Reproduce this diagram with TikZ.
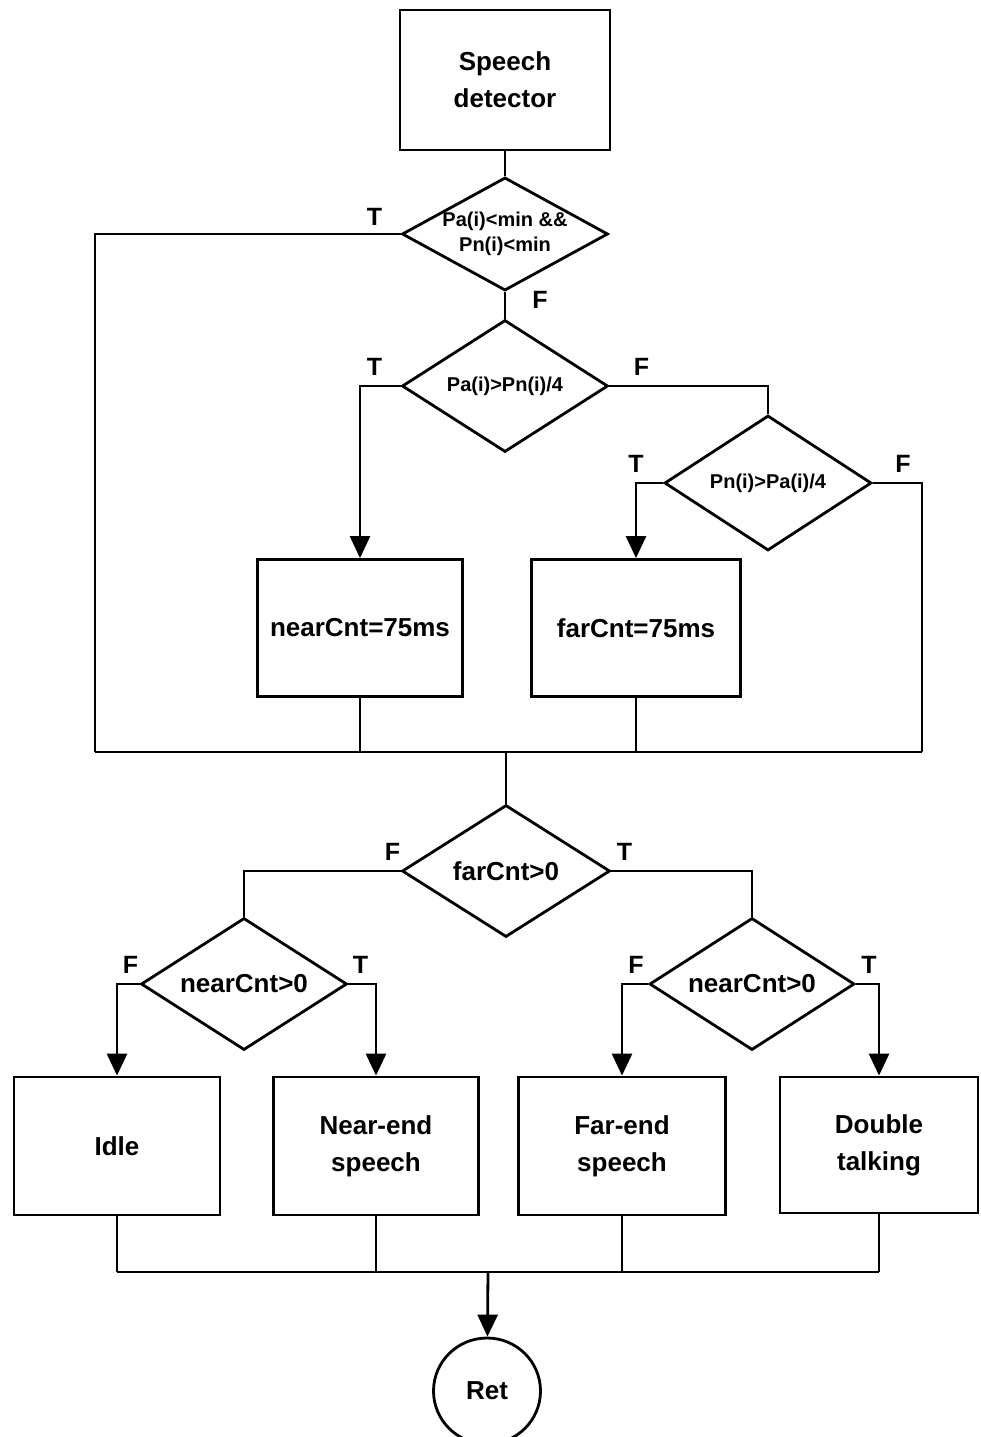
\documentclass[tikz,border=0pt]{standalone}
\usepackage{fontspec}
\setmainfont{Liberation Sans}
\usetikzlibrary{calc,shapes.geometric,arrows.meta}
\tikzset{x=1pt, y=-1pt,
    proc/.style={draw, rectangle, align=center, font=\fontsize{26}{37}\selectfont\bfseries,
           inner sep=0pt},
    test/.style={draw, diamond, aspect=1.8, inner sep=0pt, align=center,
           font=\fontsize{20}{25}\selectfont\bfseries},
    bigtest/.style={test, font=\fontsize{26}{28}\selectfont\bfseries},
    flag/.style={font=\fontsize{25}{25}\selectfont\bfseries, inner sep=0pt},
    stop/.style={draw, ellipse, inner sep=0pt, font=\fontsize{26}{28}\selectfont\bfseries},
    >={Triangle[width=20pt,length=22pt]}
    }
\begin{document}
\begin{tikzpicture}[line width=2.8pt]
\useasboundingbox (0,0) rectangle (980,1437);
% upper part
\node[proc, minimum width=210, minimum height=140] (detector) at (505,80) {Speech\\detector};
\node[test, minimum width=206, minimum height=112] (low) at (505,234) {Pa(i)<min \&\&\\Pn(i)<min};
\node[test, minimum width=206, minimum height=132] (near) at (505,386) {Pa(i)>Pn(i)/4};
\node[test, minimum width=207, minimum height=135] (far) at (768,483) {Pn(i)>Pa(i)/4};
\node[proc, minimum width=205, minimum height=137] (nearset) at (360,628) {nearCnt=75ms};
\node[proc, minimum width=209, minimum height=137] (farset) at (636,628) {farCnt=75ms};
\coordinate (loopL) at (95,752);
\coordinate (loopR) at (922,752);
\coordinate (join) at (506,752);
% lower part
\node[bigtest, minimum width=208, minimum height=132] (farchk) at (506,871) {farCnt>0};
\node[bigtest, minimum width=206, minimum height=132] (nearA) at (244,984) {nearCnt>0};
\node[bigtest, minimum width=205, minimum height=132] (nearB) at (752,984) {nearCnt>0};
\node[proc, minimum width=206, minimum height=138] (idle) at (117,1146) {Idle};
\node[proc, minimum width=205, minimum height=138] (nearend) at (376,1146) {Near-end\\speech};
\node[proc, minimum width=207, minimum height=138] (farend) at (622,1146) {Far-end\\speech};
\node[proc, minimum width=198, minimum height=136] (double) at (879,1145) {Double\\talking};
\coordinate (merge) at (488,1272);
\node[stop, minimum width=107, minimum height=106] (ret) at (487,1391) {Ret};
% branch labels
\node[flag] at ([shift={(-26,-17)}]low.west) {T};
\node[flag] at ([shift={(35,8)}]low.south) {F};
\node[flag] at ([shift={(-26,-19)}]near.west) {T};
\node[flag] at ([shift={(32,-19)}]near.east) {F};
\node[flag] at ([shift={(-27,-19)}]far.west) {T};
\node[flag] at ([shift={(30,-19)}]far.east) {F};
\node[flag] at ([shift={(-8,-19)}]farchk.west) {F};
\node[flag] at ([shift={(13,-19)}]farchk.east) {T};
\node[flag] at ([shift={(-9,-19)}]nearA.west) {F};
\node[flag] at ([shift={(12,-19)}]nearA.east) {T};
\node[flag] at ([shift={(-12,-19)}]nearB.west) {F};
\node[flag] at ([shift={(13,-19)}]nearB.east) {T};
% connectors
\draw (detector) -- (low);
\draw (low.west) -| (loopL);
\draw (low) -- (near);
\draw[->] (near.west) -| (nearset);
\draw (near.east) -| (far);
\draw[->] (far.west) -| (farset);
\draw (far.east) -| (loopR);
\draw (nearset.south) -- (nearset.south |- loopL);
\draw (farset.south) -- (farset.south |- loopL);
\draw (loopL) -- (loopR);
\draw (join) -- (farchk);
\draw (farchk.west) -| (nearA);
\draw (farchk.east) -| (nearB);
\draw[->] (nearA.west) -| (idle);
\draw[->] (nearA.east) -| (nearend);
\draw[->] (nearB.west) -| (farend);
\draw[->] (nearB.east) -| (double);
\foreach \b in {idle,nearend,farend,double}
  \draw (\b.south) -- (\b.south |- merge);
\draw (idle.south |- merge) -- (double.south |- merge);
\draw[->] (merge) -- (ret);
\end{tikzpicture}
\end{document}
